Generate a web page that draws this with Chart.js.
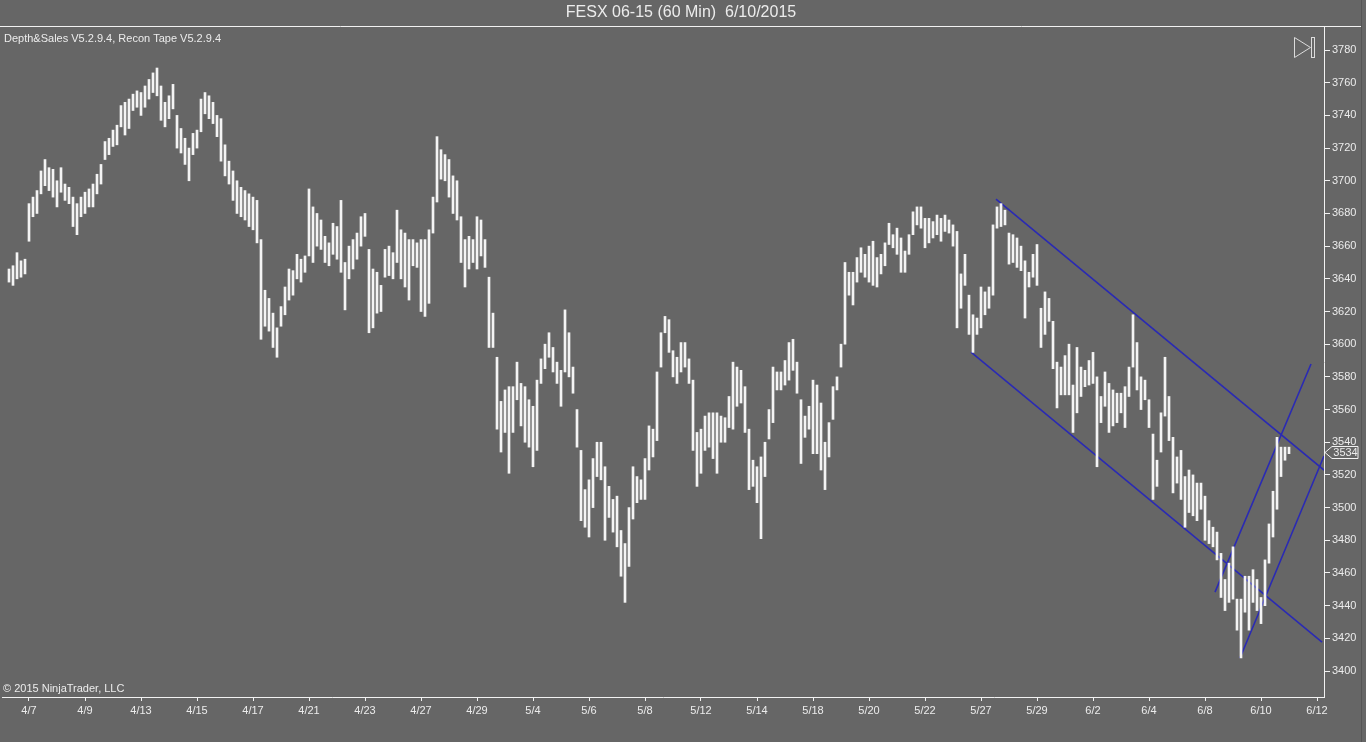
<!DOCTYPE html>
<html>
<head>
<meta charset="utf-8">
<title>FESX 06-15 (60 Min)</title>
<script src="https://cdn.jsdelivr.net/npm/chart.js@4.4.1/dist/chart.umd.min.js"></script>
<style>
    html, body { margin: 0; padding: 0; background: #666666; overflow: hidden; }
    canvas { display: block; }
</style>
</head>
<body>
<canvas id="chart" width="1366" height="742"></canvas>
<script>
// hourly-ish bars sampled every 2 hours, index 0 = last bars of 4/2
const highs = [
    3646, 3648, 3656, 3651, 3652, 3686, 3690, 3694, 3706, 3713,
    3708, 3707, 3700, 3708, 3698, 3696, 3690, 3686, 3690, 3693,
    3695, 3698, 3704, 3710, 3724, 3726, 3731, 3734, 3746, 3748,
    3750, 3753, 3755, 3754, 3758, 3762, 3766, 3769, 3758, 3748,
    3752, 3759, 3740, 3732, 3726, 3720, 3729, 3731, 3750, 3754,
    3752, 3748, 3740, 3738, 3722, 3712, 3706, 3700, 3696, 3694,
    3692, 3690, 3688, 3664, 3633, 3628, 3619, 3610, 3623, 3635,
    3646, 3645, 3655, 3652, 3654, 3695, 3684, 3680, 3676, 3666,
    3662, 3674, 3672, 3688, 3650, 3660, 3664, 3668, 3678, 3680,
    3658, 3646, 3644, 3636, 3658, 3660, 3656, 3682, 3670, 3668,
    3664, 3664, 3662, 3664, 3664, 3670, 3690, 3727, 3719, 3716,
    3713, 3703, 3700, 3678, 3664, 3666, 3664, 3678, 3676, 3664,
    3641, 3619, 3592, 3565, 3572, 3574, 3574, 3589, 3576, 3574,
    3566, 3562, 3578, 3591, 3600, 3607, 3598, 3589, 3584, 3621,
    3607, 3586, 3560, 3535, 3511, 3517, 3530, 3540, 3540, 3525,
    3513, 3505, 3507, 3486, 3478, 3500, 3525, 3519, 3517, 3530,
    3550, 3548, 3583, 3607, 3617, 3615, 3596, 3592, 3601, 3601,
    3591, 3578, 3546, 3548, 3556, 3558, 3558, 3558, 3556, 3555,
    3568, 3589, 3586, 3584, 3574, 3548, 3529, 3525, 3531, 3540,
    3560, 3586, 3583, 3583, 3590, 3601, 3603, 3589, 3566, 3556,
    3562, 3578, 3575, 3564, 3540, 3552, 3574, 3580, 3600, 3650,
    3644, 3644, 3653, 3659, 3655, 3660, 3663, 3653, 3655, 3662,
    3674, 3667, 3671, 3665, 3657, 3667, 3681, 3684, 3684, 3677,
    3677, 3675, 3679, 3677, 3679, 3676, 3673, 3669, 3643, 3655,
    3630, 3618, 3616, 3635, 3632, 3635, 3673, 3684, 3686, 3682,
    3668, 3667, 3665, 3660, 3651, 3644, 3655, 3661, 3622, 3632,
    3628, 3614, 3589, 3586, 3593, 3600, 3575, 3598, 3586, 3584,
    3590, 3595, 3580, 3568, 3583, 3576, 3572, 3570, 3570, 3574,
    3586, 3618, 3601, 3580, 3578, 3566, 3545, 3529, 3558, 3592,
    3568, 3543, 3531, 3535, 3519, 3523, 3520, 3515, 3515, 3507,
    3492, 3488, 3485, 3472, 3456, 3466, 3476, 3444, 3444, 3458,
    3458, 3462, 3456, 3445, 3468, 3490, 3510, 3543, 3537, 3537,
    3537,
];
const lows = [
    3638, 3636, 3640, 3641, 3643, 3663, 3678, 3680, 3692, 3697,
    3694, 3690, 3684, 3693, 3688, 3686, 3672, 3667, 3678, 3680,
    3684, 3684, 3692, 3698, 3713, 3716, 3721, 3722, 3733, 3728,
    3732, 3743, 3745, 3740, 3745, 3750, 3754, 3752, 3737, 3733,
    3738, 3744, 3720, 3717, 3710, 3700, 3716, 3720, 3730, 3741,
    3738, 3735, 3727, 3712, 3703, 3698, 3688, 3680, 3678, 3676,
    3672, 3670, 3662, 3603, 3611, 3608, 3598, 3592, 3611, 3618,
    3627, 3630, 3640, 3638, 3644, 3654, 3650, 3660, 3658, 3650,
    3648, 3655, 3652, 3644, 3621, 3640, 3646, 3652, 3660, 3666,
    3607, 3610, 3619, 3620, 3641, 3642, 3640, 3650, 3640, 3635,
    3627, 3648, 3647, 3620, 3617, 3625, 3668, 3687, 3701, 3700,
    3690, 3680, 3676, 3650, 3635, 3646, 3650, 3646, 3654, 3647,
    3598, 3598, 3548, 3534, 3546, 3521, 3546, 3566, 3550, 3540,
    3537, 3525, 3535, 3576, 3585, 3592, 3583, 3576, 3562, 3583,
    3580, 3570, 3537, 3492, 3488, 3482, 3500, 3519, 3517, 3480,
    3494, 3485, 3476, 3458, 3442, 3464, 3493, 3503, 3505, 3505,
    3523, 3531, 3541, 3586, 3607, 3595, 3580, 3576, 3583, 3586,
    3576, 3535, 3513, 3521, 3535, 3537, 3530, 3521, 3540, 3540,
    3549, 3548, 3562, 3564, 3546, 3511, 3513, 3503, 3481, 3519,
    3542, 3552, 3572, 3572, 3575, 3578, 3584, 3570, 3527, 3543,
    3548, 3533, 3533, 3523, 3511, 3531, 3554, 3572, 3586, 3600,
    3630, 3624, 3638, 3644, 3641, 3638, 3636, 3635, 3643, 3648,
    3661, 3659, 3655, 3644, 3644, 3655, 3667, 3673, 3671, 3659,
    3662, 3665, 3667, 3663, 3669, 3668, 3660, 3610, 3622, 3636,
    3606, 3595, 3606, 3610, 3618, 3622, 3630, 3671, 3672, 3673,
    3649, 3650, 3647, 3645, 3616, 3635, 3641, 3636, 3598, 3606,
    3614, 3585, 3561, 3569, 3569, 3569, 3546, 3558, 3568, 3574,
    3575, 3576, 3525, 3552, 3562, 3546, 3550, 3552, 3558, 3549,
    3568, 3586, 3572, 3560, 3566, 3549, 3505, 3513, 3534, 3556,
    3541, 3509, 3515, 3505, 3488, 3497, 3495, 3492, 3499, 3480,
    3478, 3476, 3468, 3445, 3437, 3442, 3444, 3425, 3408, 3436,
    3425, 3442, 3437, 3429, 3440, 3466, 3482, 3499, 3519, 3529,
    3533,
];
const lastClose = 3534;

const dateLabels = [
    "4/7", "4/9", "4/13", "4/15", "4/17", "4/21", "4/23", "4/27",
    "4/29", "5/4", "5/6", "5/8", "5/12", "5/14", "5/18", "5/20",
    "5/22", "5/27", "5/29", "6/2", "6/4", "6/8", "6/10", "6/12",
];
// bar index where each date label sits
const dateIdx = [
    5, 19, 33, 47, 61, 75, 89, 103, 117, 131, 145, 159,
    173, 187, 201, 215, 229, 243, 257, 271, 285, 299, 313, 327,
];

// drawn trend lines: [barIndex, price] end points
const channelTop = [[246.75, 3688.8], [328.75, 3523.0]];
const channelBottom = [[240.5, 3595.2], [328.25, 3417.7]];
const riseLeft = [[301.5, 3448.3], [325.5, 3587.9]];
const riseRight = [[307.75, 3408.0], [328.75, 3531.6]];

const textColor = "#ececec";
const lineBlue = "#2a2ab4";
const fontFamily = "'Liberation Sans', Arial, sans-serif";

const toPoints = (pairs) => pairs.map(([x, y]) => ({ x, y }));

const lineSet = (pairs) => ({
    type: "line",
    data: toPoints(pairs),
    borderColor: lineBlue,
    borderWidth: 1.6,
    pointRadius: 0,
    fill: false,
    tension: 0,
});

const overlay = {
    id: "ninja-overlay",
    beforeDraw(chart) {
        const { ctx, width, height } = chart;
        ctx.save();
        ctx.fillStyle = "#666666";
        ctx.fillRect(0, 0, width, height);
        ctx.restore();
    },
    afterDraw(chart) {
        const { ctx, width, chartArea } = chart;
        const y = chart.scales.y;
        ctx.save();

        // header separator
        ctx.strokeStyle = "#f2f2f2";
        ctx.lineWidth = 1;
        ctx.beginPath();
        ctx.moveTo(0, chartArea.top - 0.5);
        ctx.lineTo(width - 4, chartArea.top - 0.5);
        ctx.stroke();

        ctx.strokeStyle = "#555555";
        ctx.beginPath();
        ctx.moveTo(width - 4.5, 0);
        ctx.lineTo(width - 4.5, chart.height);
        ctx.stroke();

        ctx.fillStyle = textColor;
        ctx.textBaseline = "middle";
        ctx.font = "16px " + fontFamily;
        ctx.textAlign = "center";
        ctx.fillText("FESX 06-15 (60 Min)  6/10/2015", 681, 13);

        ctx.font = "11px " + fontFamily;
        ctx.textAlign = "left";
        ctx.fillText("Depth&Sales V5.2.9.4, Recon Tape V5.2.9.4", 4, 39);
        ctx.fillText("\u00a9 2015 NinjaTrader, LLC", 3, 689);

        // play-to-end button
        ctx.strokeStyle = "#dcdcdc";
        ctx.beginPath();
        ctx.moveTo(1294.5, 37.5);
        ctx.lineTo(1294.5, 57.5);
        ctx.lineTo(1310.5, 47.5);
        ctx.closePath();
        ctx.stroke();
        ctx.strokeRect(1311.5, 37.5, 3, 20);

        // last price marker
        const py = Math.round(y.getPixelForValue(lastClose)) + 0.5;
        const left = chartArea.right + 1;
        ctx.beginPath();
        ctx.moveTo(left, py);
        ctx.lineTo(left + 7, py - 6);
        ctx.lineTo(left + 33, py - 6);
        ctx.lineTo(left + 33, py + 6);
        ctx.lineTo(left + 7, py + 6);
        ctx.closePath();
        ctx.fillStyle = "#666666";
        ctx.fill();
        ctx.strokeStyle = "#f2f2f2";
        ctx.stroke();
        ctx.fillStyle = textColor;
        ctx.textAlign = "center";
        ctx.fillText(String(lastClose), left + 20.5, py + 0.5);

        ctx.restore();
    },
};

new Chart(document.getElementById("chart"), {
    type: "bar",
    data: {
        datasets: [
            {
                data: highs.map((h, i) => ({ x: i, y: [lows[i], h] })),
                backgroundColor: "#f4f4f4",
                borderWidth: 0,
                barThickness: 2,
            },
            lineSet(channelTop),
            lineSet(channelBottom),
            lineSet(riseLeft),
            lineSet(riseRight),
        ],
    },
    options: {
        responsive: false,
        animation: false,
        devicePixelRatio: 1,
        layout: { padding: { top: 27, left: 2, right: 0, bottom: 0 } },
        plugins: {
            legend: { display: false },
            tooltip: { enabled: false },
        },
        scales: {
            x: {
                type: "linear",
                min: -1.75,
                max: 328.75,
                offset: false,
                grid: {
                    offset: false,
                    drawOnChartArea: false,
                    tickLength: 4,
                    color: "#f2f2f2",
                },
                border: { color: "#f2f2f2", width: 1 },
                afterBuildTicks: (scale) => {
                    scale.ticks = dateIdx.map((v) => ({ value: v }));
                },
                afterFit: (scale) => {
                    scale.height = 45;
                },
                ticks: {
                    autoSkip: false,
                    maxRotation: 0,
                    padding: 3,
                    color: textColor,
                    font: { size: 11, family: fontFamily },
                    callback: (value) => dateLabels[dateIdx.indexOf(value)] ?? "",
                },
            },
            y: {
                position: "right",
                min: 3384.1,
                max: 3794.1,
                grid: {
                    drawOnChartArea: false,
                    tickLength: 6,
                    color: "#f2f2f2",
                },
                border: { color: "#f2f2f2", width: 1 },
                afterFit: (scale) => {
                    scale.width = 42;
                },
                ticks: {
                    stepSize: 20,
                    includeBounds: false,
                    padding: 2,
                    color: textColor,
                    font: { size: 11, family: fontFamily },
                    callback: (value) => String(value),
                },
            },
        },
    },
    plugins: [overlay],
});
</script>
</body>
</html>
